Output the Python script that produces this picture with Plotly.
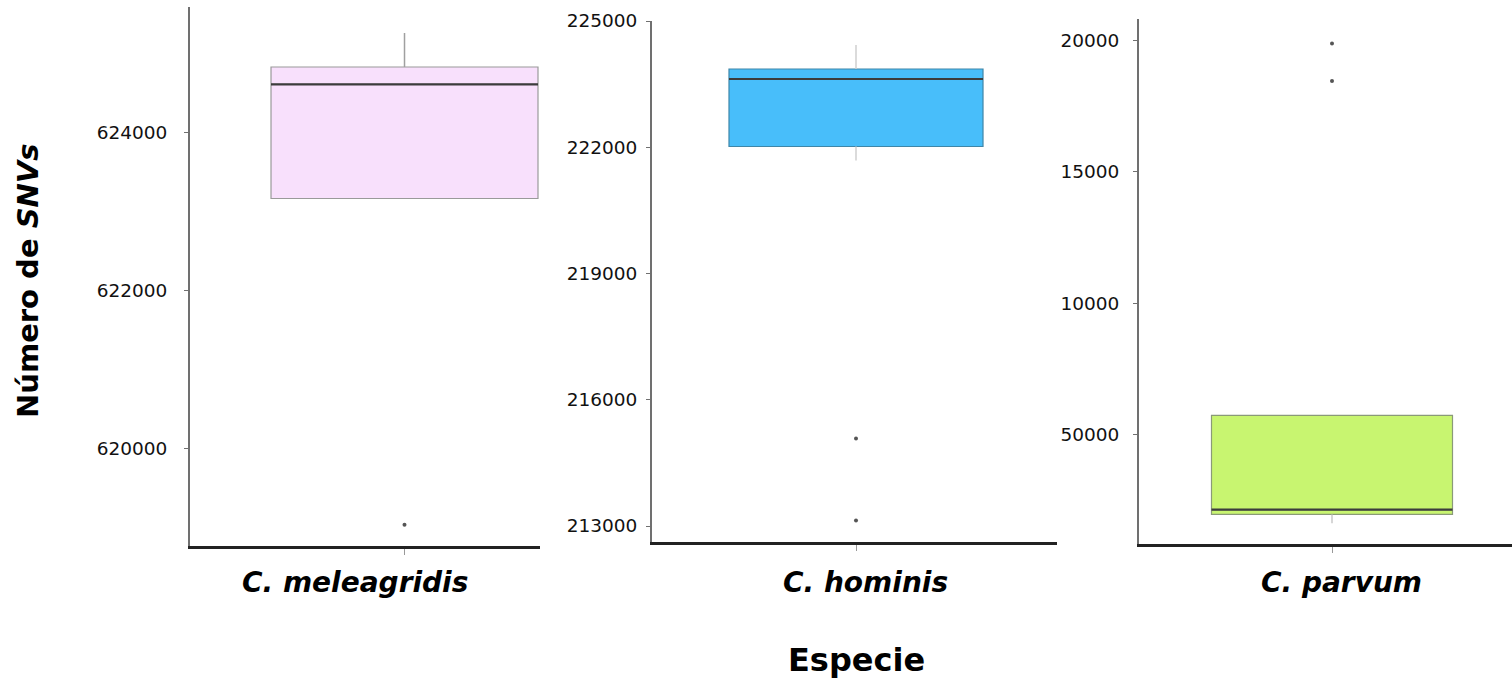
import plotly.graph_objects as go

# --- data -------------------------------------------------------------
species = ["C. meleagridis", "C. hominis", "C. parvum"]
q1 = [623168, 222018, 1948]
median = [624614, 223622, 2127]
q3 = [624833, 223859, 5724]
whisker_low = [None, 221686, 1608]
whisker_high = [625264, 224430, None]
outliers = [[619037], [215078, 213132], [19897, 18460]]

fill_colors = ["#F8E0FC", "#48BEFA", "#C8F570"]
edge_colors = ["#9a9a9a", "#3f86a8", "#8a9a78"]
whisker_colors = ["#a0a0a0", "#cfcfcf", "#c8c8c8"]

y_tickvals = [
    [620000, 622000, 624000],
    [213000, 216000, 219000, 222000, 225000],
    [5000, 10000, 15000, 20000],
]
y_ticktext = [
    ["620000", "622000", "624000"],
    ["213000", "216000", "219000", "222000", "225000"],
    ["50000", "10000", "15000", "20000"],
]

# --- layout geometry (page is 1512 x 681, no margins) -------------------
W, H = 1512, 681
panels = [
    dict(x0=190, x1=539.5, top=7, bottom=546, xr=[-0.8034, 0.5056], yr=[618768, 625593],
         standoff=13, label_x=355),
    dict(x0=652, x1=1057, top=21, bottom=541.7, xr=[-0.8031, 0.7913], yr=[212627, 225000],
         standoff=5, label_x=865),
    dict(x0=1139, x1=1512, top=19, bottom=544, xr=[-0.8008, 0.7469], yr=[819, 20827],
         standoff=10, label_x=1341),
]

fig = go.Figure()
layout = dict(
    template="none",
    width=W, height=H,
    margin=dict(l=0, r=0, t=0, b=0, pad=0, autoexpand=False),
    paper_bgcolor="white", plot_bgcolor="white",
    showlegend=False,
)
annotations = []

for i, p in enumerate(panels):
    sfx = "" if i == 0 else str(i + 1)
    xa, ya = "x" + sfx, "y" + sfx

    # box body
    fig.add_trace(go.Box(
        x=[0], q1=[q1[i]], median=[median[i]], q3=[q3[i]],
        lowerfence=[q1[i]], upperfence=[q3[i]],
        width=1, whiskerwidth=0, boxpoints=False,
        fillcolor=fill_colors[i],
        line=dict(color=edge_colors[i], width=1.2),
        xaxis=xa, yaxis=ya, hoverinfo="skip",
    ))
    # whiskers
    if whisker_high[i] is not None:
        fig.add_trace(go.Scatter(
            x=[0, 0], y=[q3[i], whisker_high[i]], mode="lines",
            line=dict(color=whisker_colors[i], width=1.5),
            xaxis=xa, yaxis=ya, hoverinfo="skip"))
    if whisker_low[i] is not None:
        fig.add_trace(go.Scatter(
            x=[0, 0], y=[q1[i], whisker_low[i]], mode="lines",
            line=dict(color=whisker_colors[i], width=1.5),
            xaxis=xa, yaxis=ya, hoverinfo="skip"))
    # median bar
    fig.add_trace(go.Scatter(
        x=[-0.5, 0.5], y=[median[i], median[i]], mode="lines",
        line=dict(color="#3c3c3c", width=2.2),
        xaxis=xa, yaxis=ya, hoverinfo="skip"))
    # outlying points
    fig.add_trace(go.Scatter(
        x=[0] * len(outliers[i]), y=outliers[i], mode="markers",
        marker=dict(color="#555555", size=4),
        xaxis=xa, yaxis=ya, hoverinfo="skip"))

    layout["xaxis" + sfx] = dict(
        domain=[p["x0"] / W, p["x1"] / W], range=p["xr"], anchor=ya,
        automargin=False, showgrid=False, zeroline=False,
        showline=True, linecolor="#222222", linewidth=2.6,
        tickvals=[0], ticks="outside", ticklen=6, tickcolor="#999999", tickwidth=1,
        showticklabels=False, fixedrange=True,
    )
    layout["yaxis" + sfx] = dict(
        domain=[1 - p["bottom"] / H, 1 - p["top"] / H], range=p["yr"], anchor=xa,
        automargin=False, showgrid=False, zeroline=False,
        showline=True, linecolor="#707070", linewidth=2,
        tickvals=y_tickvals[i], ticktext=y_ticktext[i],
        ticks="outside", ticklen=4, tickcolor="#707070", tickwidth=1,
        ticklabelstandoff=p["standoff"],
        tickfont=dict(family="DejaVu Sans", size=18.5, color="#111111"),
        fixedrange=True,
    )

    # species label under each panel
    annotations.append(dict(
        text="<b><i>" + species[i] + "</i></b>",
        x=p["label_x"] / W, y=1 - 582 / H, xref="paper", yref="paper",
        xanchor="center", yanchor="middle", showarrow=False,
        font=dict(family="DejaVu Sans", size=28, color="#000000"),
    ))

annotations.append(dict(
    text="<b>Especie</b>", x=856 / W, y=1 - 660 / H, xref="paper", yref="paper",
    xanchor="center", yanchor="middle", showarrow=False,
    font=dict(family="DejaVu Sans", size=32, color="#000000"),
))
annotations.append(dict(
    text="<b>Número de <i>SNVs</i></b>", x=28 / W, y=1 - 281 / H, xref="paper", yref="paper",
    xanchor="center", yanchor="middle", textangle=-90, showarrow=False,
    font=dict(family="DejaVu Sans", size=29, color="#000000"),
))
layout["annotations"] = annotations

fig.update_layout(**layout)
fig.write_html("out.html")
